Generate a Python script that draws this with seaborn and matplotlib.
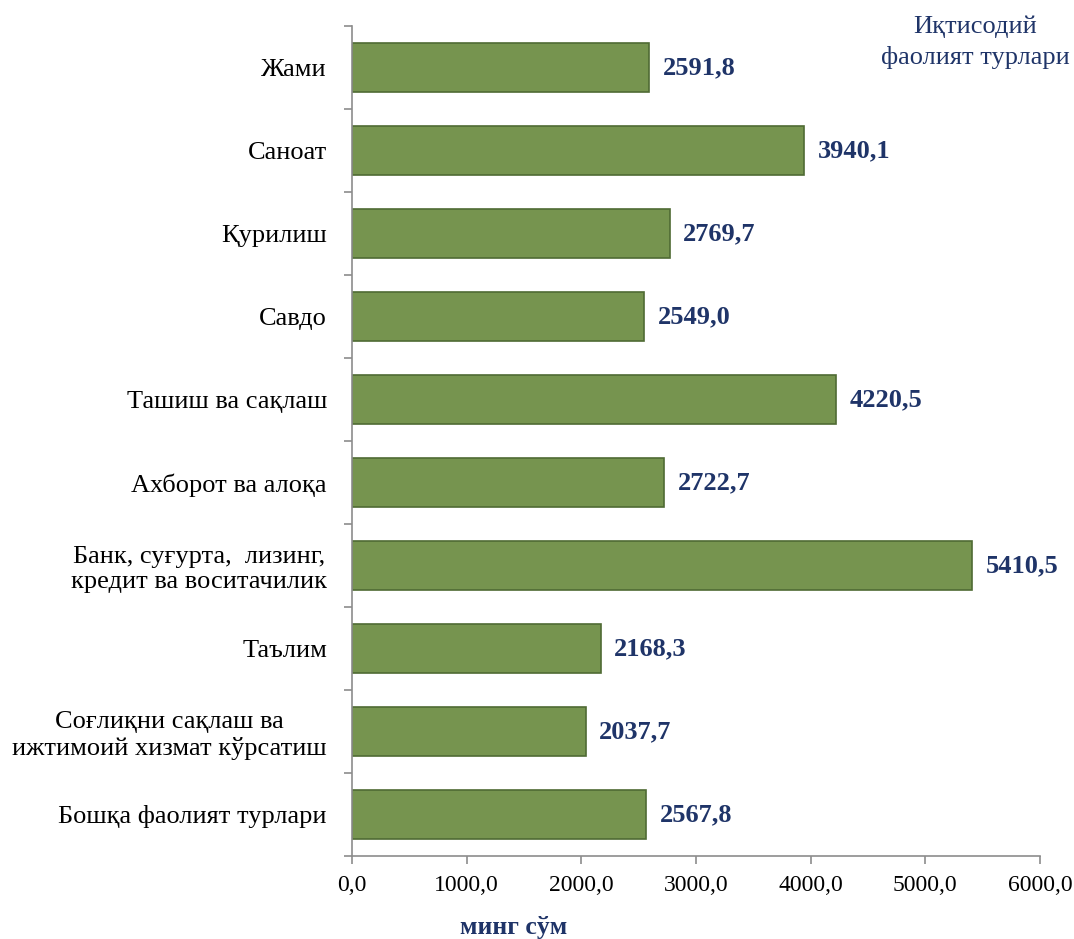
import matplotlib
matplotlib.use("Agg")
import matplotlib.pyplot as plt
import seaborn as sns
import pandas as pd

# Данные
categories = [
    "Жами",
    "Саноат",
    "Қурилиш",
    "Савдо",
    "Ташиш ва сақлаш",
    "Ахборот ва алоқа",
    "Банк, суғурта,  лизинг,\nкредит ва воситачилик",
    "Таълим",
    "Соғлиқни сақлаш ва\nижтимоий хизмат кўрсатиш",
    "Бошқа фаолият турлари",
]
values = [2591.8, 3940.1, 2769.7, 2549.0, 4220.5, 2722.7, 5410.5, 2168.3, 2037.7, 2567.8]
xticks = [0, 1000, 2000, 3000, 4000, 5000, 6000]

df = pd.DataFrame({"cat": categories, "val": values})

sns.set_style("white")
plt.rcParams["font.family"] = ["Liberation Serif", "DejaVu Serif"]
plt.rcParams["text.color"] = "black"
plt.rcParams["xtick.color"] = "black"
plt.rcParams["ytick.color"] = "black"

navy = "#1f3468"
gray = "#8c8c8c"

fig = plt.figure(figsize=(10.74, 9.39), dpi=100)
ax = fig.add_axes([0.3277, 0.0884, 0.6406, 0.8839])

sns.barplot(data=df, x="val", y="cat", color="#76944f", saturation=1,
            width=0.6, edgecolor="#4f6b34", linewidth=1.2, ax=ax)

for i, v in enumerate(values):
    ax.text(v + 120, i, f"{v:.1f}".replace(".", ","), va="center", ha="left",
            fontsize=19, fontweight="bold", color=navy)

ax.set_xlim(0, 6000)
ax.set_ylim(len(categories) - 0.5, -0.5)
ax.set_xticks(xticks)
ax.set_xticklabels([f"{t:.1f}".replace(".", ",") for t in xticks], fontsize=17)
ax.set_yticks(range(len(categories)))
ax.set_yticklabels(categories, fontsize=19, ha="right", multialignment="center",
                   linespacing=1.2)
ax.tick_params(axis="y", which="major", left=False, length=0, pad=18)
ax.tick_params(axis="x", bottom=True, length=6, color=gray, width=1.2, pad=8,
               direction="out")

# засечки между категориями
ax.set_yticks([i + 0.5 for i in range(-1, len(categories))], minor=True)
ax.tick_params(axis="y", which="minor", left=True, length=6, color=gray,
               width=1.2, direction="out")

for s in ["top", "right"]:
    ax.spines[s].set_visible(False)
for s in ["left", "bottom"]:
    ax.spines[s].set_color(gray)
    ax.spines[s].set_linewidth(1.2)

ax.set_xlabel("")
ax.set_ylabel("")
ax.grid(False)

fig.text(0.908, 0.955, "Иқтисодий\nфаолият турлари", ha="center", va="center",
         fontsize=19, color=navy, linespacing=1.4)
fig.text(0.478, 0.0, "минг сўм", ha="center", va="bottom", fontsize=18.5,
         fontweight="bold", color=navy)

fig.savefig("out.png", dpi=100, facecolor="white")
